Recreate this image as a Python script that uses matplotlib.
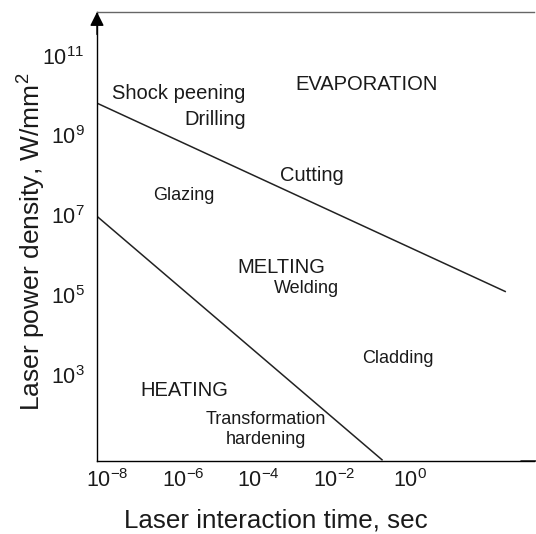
import matplotlib
matplotlib.use("Agg")
import matplotlib.pyplot as plt
import numpy as np

plt.rcParams['font.family'] = ['Liberation Sans', 'DejaVu Sans']
plt.rcParams['mathtext.fontset'] = 'custom'
plt.rcParams['mathtext.rm'] = 'Liberation Sans'
plt.rcParams['mathtext.it'] = 'Liberation Sans:italic'
plt.rcParams['mathtext.bf'] = 'Liberation Sans:bold'
plt.rcParams['axes.unicode_minus'] = False

# ---- data (log10 values) ----
upper_time_log = [-8.27, 2.50]      # evaporation / melting boundary
upper_power_log = [9.81, 5.10]
lower_time_log = [-8.27, -0.75]     # melting / heating boundary
lower_power_log = [6.98, 0.89]

xtick_exps = [-8, -6, -4, -2, 0]
ytick_exps = [3, 5, 7, 9, 11]
xtick_labels = [r'$10^{%d}$' % e for e in xtick_exps]
ytick_labels = [r'$10^{%d}$' % e for e in ytick_exps]

region_labels = ['EVAPORATION', 'MELTING', 'HEATING']
region_time_log = [-1.15, -3.41, -5.97]
region_power_log = [10.28, 5.70, 2.62]

process_labels = ['Cutting', 'Glazing', 'Welding', 'Cladding', 'Transformation\nhardening']
process_time_log = [-2.60, -5.97, -2.75, -0.33, -3.82]
process_power_log = [8.01, 7.50, 5.18, 3.43, 1.65]

# ---- figure ----
W, H = 536, 534
fig = plt.figure(figsize=(W / 100, H / 100), dpi=100)
left, right, top, bottom = 97, 534, 12, 461
ax = fig.add_axes([left / W, 1 - bottom / H, (right - left) / W, (bottom - top) / H])

ax.set_xscale('log')
ax.set_yscale('log')
ax.set_xlim(10 ** -8.27, 10 ** 3.26)
ax.set_ylim(10 ** 0.86, 10 ** 12.09)

ax.plot(10.0 ** np.array(upper_time_log), 10.0 ** np.array(upper_power_log), color='#222222', lw=1.1)
ax.plot(10.0 ** np.array(lower_time_log), 10.0 ** np.array(lower_power_log), color='#222222', lw=1.1)

for lab, t, p in zip(region_labels, region_time_log, region_power_log):
    ax.text(10 ** t, 10 ** p, lab, ha='center', va='center', fontsize=14.5, color='#1a1a1a')

for lab, t, p in zip(process_labels, process_time_log, process_power_log):
    fs = 14.5 if lab == 'Cutting' else 13
    ax.text(10 ** t, 10 ** p, lab, ha='center', va='center', fontsize=fs, color='#1a1a1a',
            linespacing=1.25)

ax.text(10 ** -7.87, 10 ** 10.05, 'Shock peening', ha='left', va='center', fontsize=14.5, color='#1a1a1a')
ax.text(10 ** -4.34, 10 ** 9.40, 'Drilling', ha='right', va='center', fontsize=14.5, color='#1a1a1a')

ax.xaxis.set_minor_locator(matplotlib.ticker.NullLocator())
ax.yaxis.set_minor_locator(matplotlib.ticker.NullLocator())
ax.set_xticks([10.0 ** e for e in xtick_exps])
ax.set_xticklabels(xtick_labels)
ax.set_yticks([10.0 ** e for e in ytick_exps])
ax.set_yticklabels(ytick_labels)
ax.tick_params(axis='both', length=0, labelsize=15.5, colors='#1a1a1a')
ax.tick_params(axis='x', pad=6)
ax.tick_params(axis='y', pad=9)

ax.spines['right'].set_visible(False)
ax.spines['top'].set_color('#666666')
ax.spines['top'].set_linewidth(1.0)
ax.spines['left'].set_linewidth(1.0)
ax.spines['bottom'].set_linewidth(1.0)

ax.set_xlabel('Laser interaction time, sec', fontsize=18.7, color='#1a1a1a')
ax.set_ylabel('Laser power density, W/mm$^2$', fontsize=19, color='#1a1a1a')
ax.xaxis.set_label_coords(0.41, -0.105)
ax.yaxis.set_label_coords(-0.112, 0.488)

# axis arrows
ax.annotate('', xy=(0, 1.0), xytext=(0, 0.95), xycoords='axes fraction',
            arrowprops=dict(arrowstyle='-|>', color='black', lw=1.0, mutation_scale=21,
                            shrinkA=0, shrinkB=0), annotation_clip=False)
ax.annotate('', xy=(1.045, 0), xytext=(0.97, 0), xycoords='axes fraction',
            arrowprops=dict(arrowstyle='-|>', color='black', lw=1.0, mutation_scale=21,
                            shrinkA=0, shrinkB=0), annotation_clip=False)

fig.savefig('out.png', dpi=100)
